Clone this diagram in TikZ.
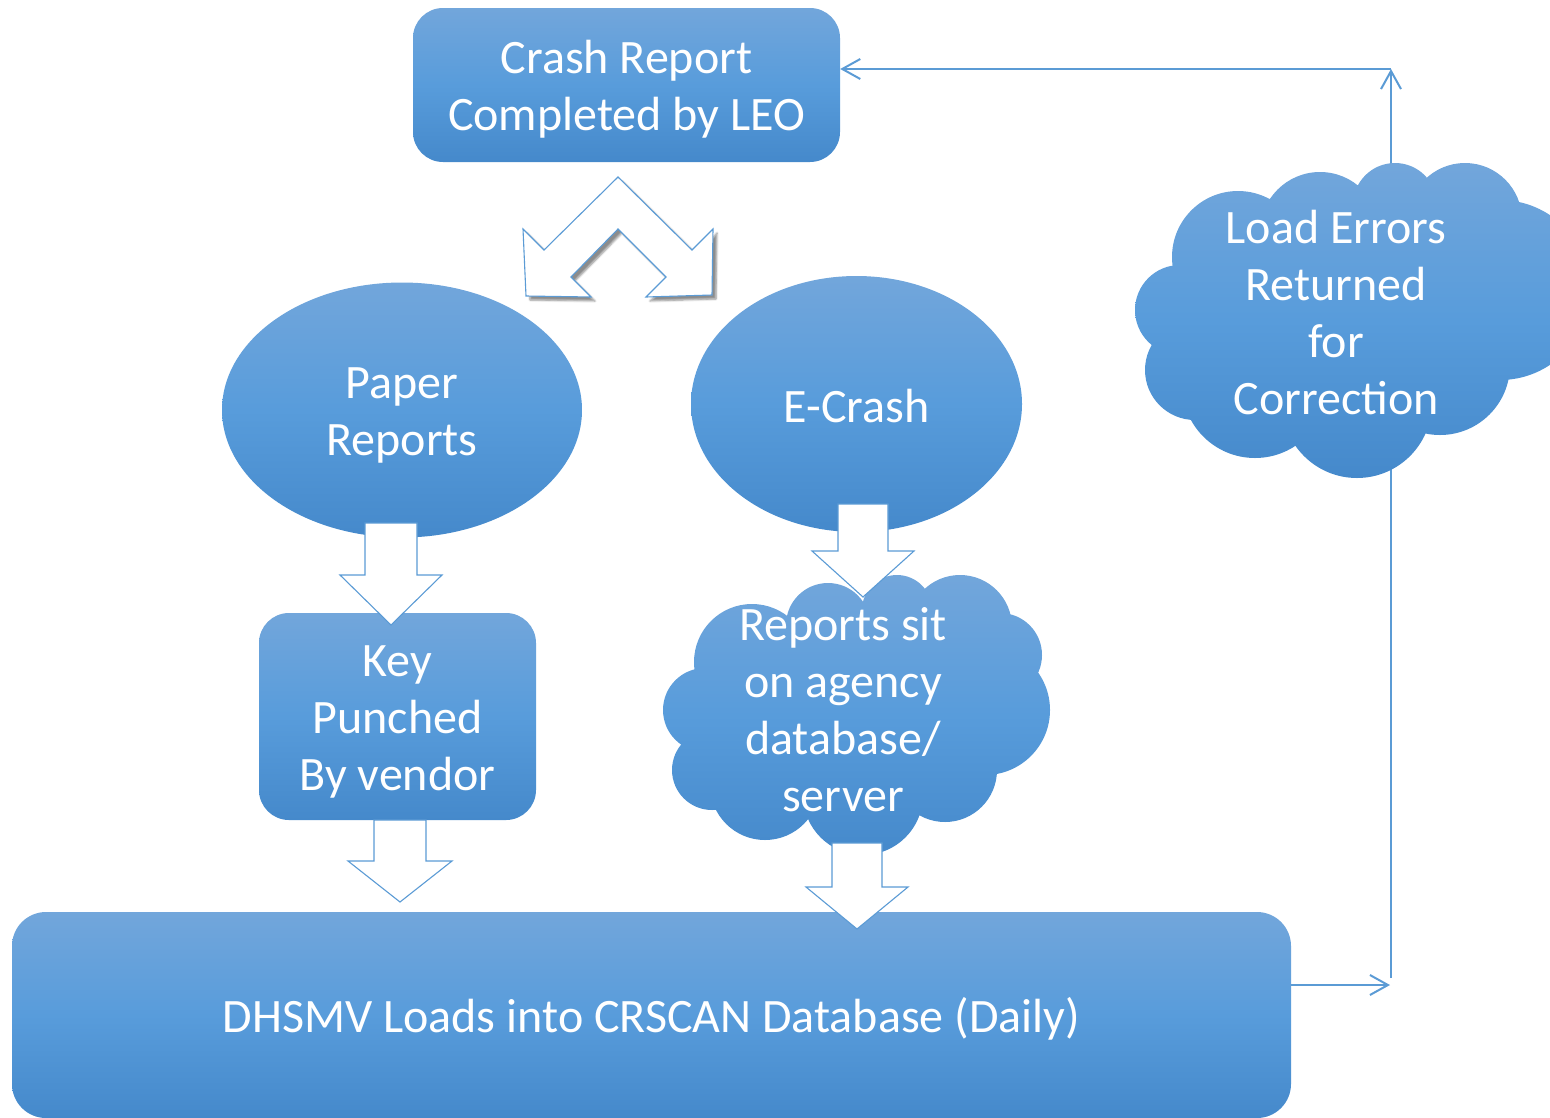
\documentclass[tikz,border=0pt]{standalone}
\usepackage{fontspec}
\setmainfont{Carlito}
\usetikzlibrary{shapes.geometric,arrows.meta,shadows.blur}
\definecolor{gtop}{RGB}{114,166,219}
\definecolor{gmid}{RGB}{88,156,219}
\definecolor{gbot}{RGB}{69,137,203}
\definecolor{lineblue}{RGB}{91,155,213}
\newcommand{\bigfont}{\fontsize{48}{57}\selectfont}
\newcommand{\blockarr}[6]{%
  \draw[blk] (#1-#5,#2) -- (#1-#5,#3) -- (#1-#6,#3) -- (#1,#4) -- (#1+#6,#3) -- (#1+#5,#3) -- (#1+#5,#2) -- cycle;}
\tikzset{
  grad/.style={top color=gtop, bottom color=gbot, middle color=gmid},
  box/.style={grad, rectangle, rounded corners=30pt, inner sep=0pt},
  oval/.style={grad, ellipse, inner sep=0pt},
  txt/.style={text=white, font=\bigfont, align=center, inner sep=0pt},
  blk/.style={fill=white, draw=lineblue, line width=1.1pt, line join=miter},
  conn/.style={draw=lineblue, line width=2pt, -{Straight Barb[length=18pt,width=20pt,line width=2pt]}},
}
\begin{document}
\begin{tikzpicture}[x=1pt,y=-1pt]
\useasboundingbox (0,0) rectangle (1550,1117);
\clip (0,0) rectangle (1550,1117);

% main shapes
\node[box, minimum width=1279pt, minimum height=206pt, rounded corners=34pt] (dhsmv) at (651.5,1015) {};
\node[box, minimum width=277pt, minimum height=207pt] (key) at (397.5,716.5) {};
\node[oval, minimum width=360pt, minimum height=255pt] (paper) at (402,410) {};
\node[oval, minimum width=331pt, minimum height=256pt] (ecrash) at (856.5,404) {};
\node[box, minimum width=427pt, minimum height=154pt] (crash) at (626.5,85) {};

% texts
\node[txt] (dhsmvT) at ([yshift=-4pt]dhsmv.center) {DHSMV Loads into CRSCAN Database (Daily)};
\node[txt] (keyT) at ([yshift=-5pt]key.center) {Key\\Punched\\By vendor};
\node[txt] (paperT) at ([yshift=-5pt]paper.center) {Paper\\Reports};
\node[txt] (ecrashT) at ([yshift=-2pt]ecrash.center) {E-Crash};
\node[txt] (crashT) at ([yshift=-4pt]crash.center) {Crash Report\\Completed by LEO};

% feedback connectors
\coordinate (j1) at (1390,985);
\coordinate (j2) at (1391,978);
\coordinate (j3) at (1391,69);
\draw[conn] (dhsmv.east |- j1) -- (j1);
\draw[conn] (j2) -- (j3);
\draw[conn] (j3) -- (crash.east |- j3);

% cloud: reports sit on agency database/server
\path[grad] (752,662) circle[radius=58] (828,625) circle[radius=42] (897,610) circle[radius=35]
  (960,627) circle[radius=52] (1000,655) circle[radius=42] (985,710) circle[radius=65]
  (945,770) circle[radius=52] (863,795) circle[radius=60] (765,785) circle[radius=55]
  (712,770) circle[radius=40] (705,710) circle[radius=42]
  (856,712) ellipse[x radius=140, y radius=105];
\node[txt] (agency) at (843,710) {Reports sit\\on agency\\database/\\server};

% cloud: load errors
\path[grad] (1238,257) circle[radius=66] (1320,232) circle[radius=60] (1395,205) circle[radius=42]
  (1465,220) circle[radius=57] (1500,290) circle[radius=90] (1440,365) circle[radius=70]
  (1357,403) circle[radius=75] (1255,385) circle[radius=73] (1195,370) circle[radius=50]
  (1180,310) circle[radius=45]
  (1340,310) ellipse[x radius=160, y radius=120];
\node[txt] (loaderr) at (1336,313) {Load Errors\\Returned\\for\\Correction};

% block arrows
\blockarr{391}{523}{575}{625}{26}{51}
\blockarr{863}{504}{551}{597}{25}{51}
\blockarr{400}{820}{861}{902}{26}{52}
\blockarr{857}{843}{887}{929}{25}{51}

% chevron double arrow
\draw[blk, blur shadow={shadow xshift=4pt, shadow yshift=-4pt, shadow blur steps=6, shadow opacity=45}]
  (618,177) -- (692,250) -- (713,229) -- (712,295) -- (646,297) -- (666,277) -- (618,229)
  -- (571,277) -- (591,297) -- (526,296) -- (523,229) -- (544,250) -- cycle;
\end{tikzpicture}
\end{document}
